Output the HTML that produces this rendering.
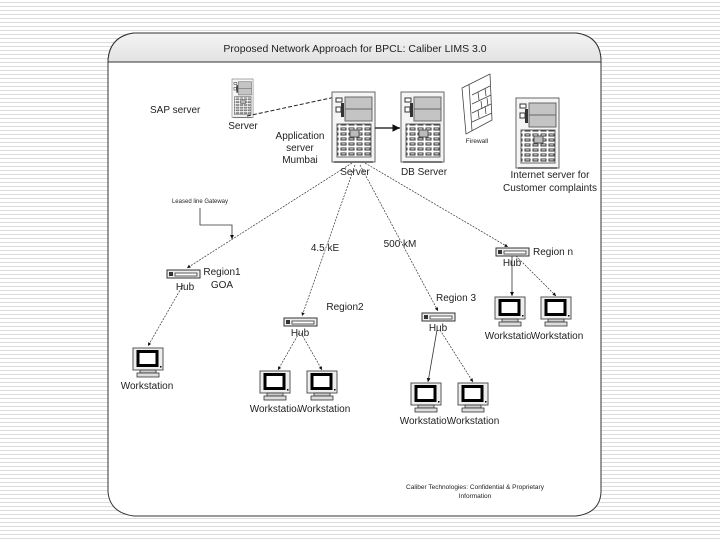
<!DOCTYPE html>
<html><head><meta charset="utf-8"><style>
html,body{margin:0;padding:0;}
body{width:720px;height:540px;overflow:hidden;background:#fff repeating-linear-gradient(to bottom,#fff 0,#fff 2px,#dcdcdc 2px,#dcdcdc 3px,#fff 3px,#fff 4px);}
svg{position:absolute;left:0;top:0;}
text{font-family:"Liberation Sans",sans-serif;fill:#222;}
</style></head><body>
<svg width="720" height="540" viewBox="0 0 720 540">
<defs>
<linearGradient id="tg" x1="0" y1="0" x2="0" y2="1"><stop offset="0" stop-color="#f4f4f4"/><stop offset="1" stop-color="#e2e2e2"/></linearGradient>
<pattern id="grid" width="8" height="5" patternUnits="userSpaceOnUse"><rect width="8" height="5" fill="#fff"/><rect x="0.5" y="0.5" width="6" height="3" fill="#333"/><rect x="1.5" y="1.3" width="4" height="1.2" fill="#ddd"/></pattern>
<marker id="ah" markerWidth="6" markerHeight="6" refX="5" refY="3" orient="auto"><path d="M0,0.5 L5,3 L0,5.5 z" fill="#111"/></marker>
<g id="srv">
<rect x="0" y="0" width="43" height="70" fill="#f5f5f5" stroke="#666"/>
<rect x="13" y="5" width="27" height="24" fill="#c4c4c4" stroke="#666"/>
<line x1="13" y1="17" x2="40" y2="17" stroke="#666"/>
<rect x="4" y="6" width="6" height="4" fill="#fff" stroke="#333"/>
<rect x="9" y="11" width="3" height="14" fill="#333"/>
<rect x="4" y="15" width="5" height="5" fill="#fff" stroke="#333"/>
<rect x="5" y="32" width="34" height="33" fill="url(#grid)" stroke="#666"/>
<rect x="18" y="38" width="9" height="7" fill="#bbb" stroke="#555"/>
<rect x="2" y="69" width="39" height="2" fill="#777"/>
</g>
<g id="ws">
<rect x="0" y="0" width="30" height="22" fill="#eee" stroke="#555"/>
<rect x="5" y="3.5" width="19" height="14" fill="#fff" stroke="#000" stroke-width="3"/>
<rect x="27" y="18" width="1.5" height="1.5" fill="#000"/>
<rect x="7" y="22" width="16" height="3" fill="#ccc" stroke="#333" stroke-width="0.8"/>
<rect x="4" y="25" width="22" height="4" fill="#ddd" stroke="#333" stroke-width="0.8"/>
</g>
<g id="hub">
<rect x="0" y="0" width="33" height="8" fill="#eee" stroke="#333"/>
<rect x="2" y="2" width="4" height="4" fill="#333"/>
<rect x="8" y="3" width="22" height="3" fill="#fff" stroke="#333" stroke-width="0.8"/>
</g>
</defs>

<!-- panel -->
<path d="M134,33 L576,33 Q600,36 601,60 L601,492 Q600,513 576,516 L134,516 Q110,513 108,492 L108,60 Q110,36 134,33 Z" fill="#fff" stroke="#333" stroke-width="1"/>
<path d="M134,33 L576,33 Q600,36 601,60 L601,62 L108,62 L108,60 Q110,36 134,33 Z" fill="url(#tg)" stroke="#333"/>
<text x="355" y="52" font-size="10.5" text-anchor="middle">Proposed  Network Approach for BPCL: Caliber LIMS 3.0</text>

<!-- SAP -->
<text x="150" y="113" font-size="10">SAP server</text>
<g transform="translate(232,79) scale(0.49,0.55)"><use href="#srv"/></g>
<text x="243" y="129" font-size="10" text-anchor="middle">Server</text>
<line x1="247" y1="116" x2="340" y2="96" stroke="#222" stroke-dasharray="4,2"/>

<use href="#srv" x="332" y="92"/>
<text x="355" y="175" font-size="10" text-anchor="middle">Server</text>
<text x="300" y="139" font-size="10" text-anchor="middle">Application</text>
<text x="300" y="151" font-size="10" text-anchor="middle">server</text>
<text x="300" y="163" font-size="10" text-anchor="middle">Mumbai</text>

<line x1="375" y1="128" x2="400" y2="128" stroke="#333" stroke-width="1.5" marker-end="url(#ah)"/>
<use href="#srv" x="401" y="92"/>
<text x="424" y="175" font-size="10" text-anchor="middle">DB Server</text>

<!-- firewall -->
<g stroke="#444" fill="#fff" stroke-width="0.8">
<path d="M462,88 L490,74 L492,120 L466,134 Z"/>
<line x1="469" y1="84" x2="472" y2="131"/>
<path d="M472,95 L490,86 M472,104 L491,95 M472,113 L491,104 M472,122 L492,113" fill="none"/>
<path d="M478,92 l1,8 M485,88 l1,8 M481,101 l1,8 M487,98 l1,8 M478,110 l1,8 M485,106 l1,8" fill="none"/>
</g>
<text x="477" y="143" font-size="6.5" text-anchor="middle">Firewall</text>

<use href="#srv" x="516" y="98"/>
<text x="550" y="178" font-size="10" text-anchor="middle">Internet server for</text>
<text x="550" y="191" font-size="10" text-anchor="middle">Customer complaints</text>

<!-- links -->
<g stroke="#333" stroke-width="0.7" stroke-dasharray="2,1.2" fill="none">
<line x1="352" y1="163" x2="187" y2="268" marker-end="url(#ah)"/>
<line x1="355" y1="165" x2="302" y2="316" marker-end="url(#ah)"/>
<line x1="360" y1="165" x2="438" y2="311" marker-end="url(#ah)"/>
<line x1="365" y1="163" x2="508" y2="247" marker-end="url(#ah)"/>
<line x1="183" y1="285" x2="148" y2="346" marker-end="url(#ah)"/>
<line x1="299" y1="333" x2="278" y2="370" marker-end="url(#ah)"/>
<line x1="301" y1="333" x2="322" y2="370" marker-end="url(#ah)"/>
<line x1="440" y1="330" x2="473" y2="382" marker-end="url(#ah)"/>
<line x1="516" y1="256" x2="556" y2="296" marker-end="url(#ah)"/>
</g>
<g stroke="#333" stroke-width="0.8" fill="none">
<line x1="437" y1="330" x2="428" y2="382" marker-end="url(#ah)"/>
<line x1="512" y1="256" x2="512" y2="296" marker-end="url(#ah)"/>
<polyline points="200,208 200,225 232,225 232,239" marker-end="url(#ah)"/>
</g>
<text x="200" y="203" font-size="6" text-anchor="middle" fill="#555">Leased line Gateway</text>
<text x="325" y="251" font-size="10" text-anchor="middle">4.5 kE</text>
<text x="400" y="247" font-size="10" text-anchor="middle">500 kM</text>

<!-- hubs -->
<use href="#hub" x="167" y="270"/>
<text x="185" y="290" font-size="10" text-anchor="middle">Hub</text>
<text x="222" y="275" font-size="10" text-anchor="middle">Region1</text>
<text x="222" y="288" font-size="10" text-anchor="middle">GOA</text>

<use href="#hub" x="284" y="318"/>
<text x="300" y="336" font-size="10" text-anchor="middle">Hub</text>
<text x="345" y="310" font-size="10" text-anchor="middle">Region2</text>

<use href="#hub" x="422" y="313"/>
<text x="438" y="331" font-size="10" text-anchor="middle">Hub</text>
<text x="456" y="301" font-size="10" text-anchor="middle">Region 3</text>

<use href="#hub" x="496" y="248"/>
<text x="512" y="266" font-size="10" text-anchor="middle">Hub</text>
<text x="533" y="255" font-size="10">Region n</text>

<!-- workstations -->
<use href="#ws" x="133" y="348"/>
<text x="147" y="389" font-size="10" text-anchor="middle">Workstation</text>
<use href="#ws" x="260" y="371"/>
<use href="#ws" x="307" y="371"/>
<text x="276" y="412" font-size="10" text-anchor="middle">Workstation</text>
<text x="324" y="412" font-size="10" text-anchor="middle" style="paint-order:stroke" stroke="#fff" stroke-width="2">Workstation</text>
<use href="#ws" x="411" y="383"/>
<use href="#ws" x="458" y="383"/>
<text x="426" y="424" font-size="10" text-anchor="middle">Workstation</text>
<text x="473" y="424" font-size="10" text-anchor="middle" style="paint-order:stroke" stroke="#fff" stroke-width="2">Workstation</text>
<use href="#ws" x="495" y="297"/>
<use href="#ws" x="541" y="297"/>
<text x="511" y="339" font-size="10" text-anchor="middle">Workstation</text>
<text x="557" y="339" font-size="10" text-anchor="middle" style="paint-order:stroke" stroke="#fff" stroke-width="2">Workstation</text>

<text x="475" y="489" font-size="6.5" text-anchor="middle" fill="#444">Caliber Technologies: Confidential &amp; Proprietary</text>
<text x="475" y="498" font-size="6.5" text-anchor="middle" fill="#444">Information</text>
</svg>
</body></html>
